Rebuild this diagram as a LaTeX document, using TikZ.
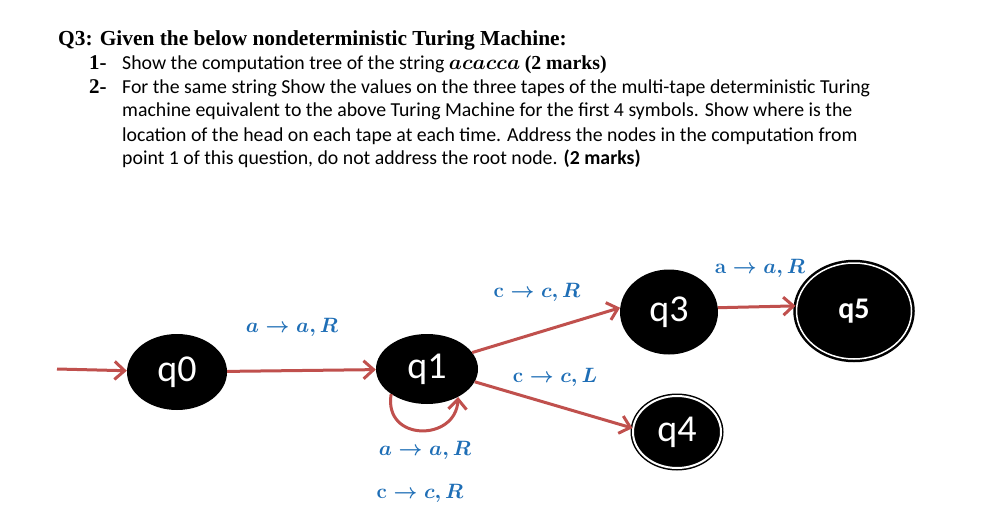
\documentclass[tikz,border=0pt]{standalone}
\usepackage[no-math]{fontspec}
\setmainfont{Carlito}
\newfontfamily\timesfont{Liberation Serif}
\usetikzlibrary{arrows.meta,shapes.geometric}
\definecolor{arrowred}{RGB}{192,80,77}
\definecolor{lblblue}{RGB}{30,110,182}

\begin{document}
\begin{tikzpicture}[x=1pt,y=-1pt,
   txt/.style={anchor=base west,inner sep=0pt},
   tmstate/.style={ellipse,fill=black,text=white,inner sep=0pt,font=\fontsize{38}{40}\selectfont},
   trans/.style={draw=arrowred,line width=3pt,-{Straight Barb[length=10pt,width=18pt]}},
   lbl/.style={text=lblblue,inner sep=0pt,font=\fontsize{22}{24}\selectfont\boldmath}]

   \fill[white,use as bounding box] (0,0) rectangle (984,532);

   % question text
   \node[txt,font=\timesfont\bfseries\fontsize{21.4}{25}\selectfont] (title) at (58,46) {Q3: Given the below nondeterministic Turing Machine:};
   \node[txt,font=\timesfont\bfseries\fontsize{21}{24}\selectfont] (num1) at (89,70) {1-};
   \node[txt,font=\fontsize{19.8}{23}\selectfont] (item1) at (122,70) {Show the computation tree of the string {\boldmath$acacca$} {\timesfont\bfseries (2 marks)}};
   \node[txt,font=\timesfont\bfseries\fontsize{21}{24}\selectfont] (num2) at (89,94) {2-};
   \node[txt,font=\fontsize{19.8}{23}\selectfont] (item2a) at (122,94) {For the same string Show the values on the three tapes of the multi-tape deterministic Turing};
   \node[txt,font=\fontsize{19.8}{23}\selectfont] (item2b) at (122,117) {machine equivalent to the above Turing Machine for the first 4 symbols. Show where is the};
   \node[txt,font=\fontsize{19.8}{23}\selectfont] (item2c) at (122,141) {location of the head on each tape at each time. Address the nodes in the computation from};
   \node[txt,font=\fontsize{19.8}{23}\selectfont] (item2d) at (122,164) {point 1 of this question, do not address the root node. \textbf{(2 marks)}};

   % states
   \node[tmstate,minimum width=100pt,minimum height=76pt] (q0) at (177,372) {q0};
   \node[tmstate,minimum width=102pt,minimum height=70pt] (q1) at (427,369) {q1};
   \node[tmstate,minimum width=98pt,minimum height=85pt] (q3) at (669,312) {q3};
   \node[tmstate,draw=black,double=white,line width=1.5pt,double distance=2pt,minimum width=88pt,minimum height=72pt] (q4) at (677,432) {q4};
   \node[tmstate,draw=black,double=white,line width=2.5pt,double distance=1.5pt,minimum width=115pt,minimum height=96pt,font=\bfseries\fontsize{30}{32}\selectfont] (q5) at (854,311) {q5};
   \coordinate (start) at (57,369);

   % transitions
   \draw[trans] (start) -- (q0);
   \draw[trans] (q0) -- (q1);
   \draw[trans] (q1.20) -- (q3.175);
   \draw[trans] (q1.-15) -- (q4.175);
   \draw[trans] (q3.5) -- (q5.175);
   \draw[trans] (q1.215) .. controls +(-8,48) and +(-2,45) .. (q1.318);

   \node[lbl] (lab01) at (292,327) {$a \rightarrow a, R$};
   \node[lbl] (lab11a) at (425,450) {$a \rightarrow a, R$};
   \node[lbl] (lab11c) at (420,493) {$\mathbf{c} \rightarrow c, R$};
   \node[lbl] (lab13) at (537,292) {$\mathbf{c} \rightarrow c, R$};
   \node[lbl] (lab14) at (555,377) {$\mathbf{c} \rightarrow c, L$};
   \node[lbl] (lab35) at (760,268) {$\mathbf{a} \rightarrow a, R$};

\end{tikzpicture}
\end{document}
